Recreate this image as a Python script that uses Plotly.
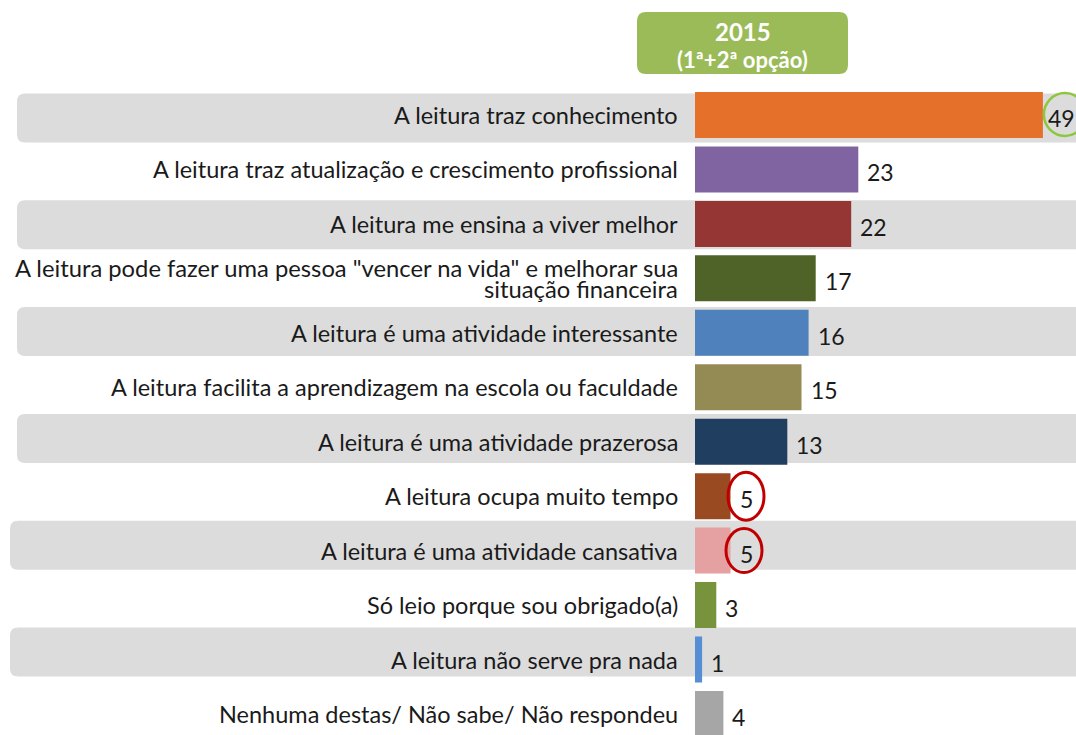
import plotly.graph_objects as go

W, H = 1076, 735

categories = [
    "A leitura traz conhecimento",
    "A leitura traz atualização e crescimento profissional",
    "A leitura me ensina a viver melhor",
    "A leitura pode fazer uma pessoa \"vencer na vida\" e melhorar sua<br>situação financeira",
    "A leitura é uma atividade interessante",
    "A leitura facilita a aprendizagem na escola ou faculdade",
    "A leitura é uma atividade prazerosa",
    "A leitura ocupa muito tempo",
    "A leitura é uma atividade cansativa",
    "Só leio porque sou obrigado(a)",
    "A leitura não serve pra nada",
    "Nenhuma destas/ Não sabe/ Não respondeu",
]
values = [49, 23, 22, 17, 16, 15, 13, 5, 5, 3, 1, 4]
bar_colors = ["#E5702A", "#8064A2", "#963634", "#4F6228", "#4F81BD", "#948A54",
              "#1F3E60", "#9A4A20", "#E5A1A1", "#77933C", "#558ED5", "#A6A6A6"]
header_title = "2015"
header_sub = "(1ª+2ª opção)"
highlight_green = [0]
highlight_red = [7, 8]

FONT = "Lato"
TXT = "#1a1a1a"

# geometry (pixels)
row0_px = 115.0
row_px = 54.45
px_per_unit = 7.1
x_left_px = 695.0
ymin = -row0_px / row_px
ymax = ymin + H / row_px
xmax = (W - x_left_px) / px_per_unit

fig = go.Figure(go.Bar(
    x=values, y=categories, orientation="h",
    marker=dict(color=bar_colors, line=dict(width=0)),
    width=0.845, hoverinfo="skip",
))

def rrect(x0, x1, y0, y1, rx, ry):
    return (f"M {x0+rx},{y0} L {x1-rx},{y0} Q {x1},{y0} {x1},{y0+ry} "
            f"L {x1},{y1-ry} Q {x1},{y1} {x1-rx},{y1} L {x0+rx},{y1} "
            f"Q {x0},{y1} {x0},{y1-ry} L {x0},{y0+ry} Q {x0},{y0} {x0+rx},{y0} Z")

shapes = []
# alternating grey bands
band_left = {0: 17, 2: 17, 4: 17, 6: 17, 8: 10, 10: 10}
for i, left in band_left.items():
    c = i + (3 - 1.05 * i) / row_px
    half = 24.5 / row_px
    y0, y1 = c - half, c + half
    shapes.append(dict(type="path", xref="paper", yref="y",
                       path=rrect(left / W, 1.02, y0, y1, 8 / W, 8 / row_px),
                       fillcolor="#DCDCDC", line=dict(width=0), layer="below"))

# header box
hx0, hx1 = 637 / W, 848 / W
hy0, hy1 = 1 - 74 / H, 1 - 12 / H
shapes.append(dict(type="path", xref="paper", yref="paper",
                   path=rrect(hx0, hx1, hy0, hy1, 9 / W, 9 / H),
                   fillcolor="#9BBB59", line=dict(width=0), layer="below"))

# highlight circles (pixel-sized, anchored at bar ends)
for i in highlight_green:
    shapes.append(dict(type="circle", xref="x", yref="y", xsizemode="pixel", ysizemode="pixel",
                       xanchor=values[i], yanchor=i, x0=1, x1=43, y0=-21, y1=22,
                       line=dict(color="#8DC63F", width=2.5), layer="above"))
red_offsets = {7: (-2.5, 33.5, -24, 24), 8: (-4.5, 31.5, -22, 22)}
for i in highlight_red:
    a, b, c, d = red_offsets[i]
    shapes.append(dict(type="circle", xref="x", yref="y", xsizemode="pixel", ysizemode="pixel",
                       xanchor=values[i], yanchor=i, x0=a, x1=b, y0=c, y1=d,
                       line=dict(color="#C00000", width=3), layer="above"))

LAB_SIZE = 23.5
annotations = []
for i, cat in enumerate(categories):
    lines = cat.split("<br>")
    if len(lines) == 1:
        annotations.append(dict(x=680 / W, xref="paper", y=cat, yref="y", text=cat,
                                xanchor="right", yanchor="middle", showarrow=False,
                                yshift=0, font=dict(family=FONT, size=LAB_SIZE, color=TXT)))
    else:
        shifts = [10.5, -10.5]
        for ln, sh in zip(lines, shifts):
            annotations.append(dict(x=680 / W, xref="paper", y=cat, yref="y", text=ln,
                                    xanchor="right", yanchor="middle", showarrow=False,
                                    yshift=sh, font=dict(family=FONT, size=23.75, color=TXT)))
    annotations.append(dict(x=values[i], xref="x", y=cat, yref="y", text=str(values[i]),
                            xanchor="left", yanchor="middle", showarrow=False,
                            xshift=(4 if i in highlight_green else 8), yshift=-3, borderpad=0,
                            font=dict(family=FONT, size=23, color=TXT)))

hxc = (hx0 + hx1) / 2
annotations.append(dict(x=hxc, xref="paper", y=1 - 31 / H, yref="paper",
                        text=f"<b>{header_title}</b>",
                        showarrow=False, xanchor="center", yanchor="middle",
                        font=dict(family=FONT, size=24, color="white")))
annotations.append(dict(x=hxc, xref="paper", y=1 - 60 / H, yref="paper",
                        text=f"<b>{header_sub}</b>",
                        showarrow=False, xanchor="center", yanchor="middle",
                        font=dict(family=FONT, size=22, color="white")))

fig.update_layout(
    width=W, height=H, margin=dict(l=0, r=0, t=0, b=0),
    paper_bgcolor="white", plot_bgcolor="rgba(0,0,0,0)",
    showlegend=False, shapes=shapes, annotations=annotations,
    xaxis=dict(domain=[x_left_px / W, 1], range=[0, xmax], visible=False, fixedrange=True),
    yaxis=dict(type="category", categoryorder="array", categoryarray=categories,
               range=[ymax, ymin], visible=False, fixedrange=True),
)
fig.write_html(
    "out.html",
    config={"displayModeBar": False},
    post_script="document.documentElement.style.margin='0';document.body.style.margin='0';"
                "document.body.style.overflow='hidden';",
)
